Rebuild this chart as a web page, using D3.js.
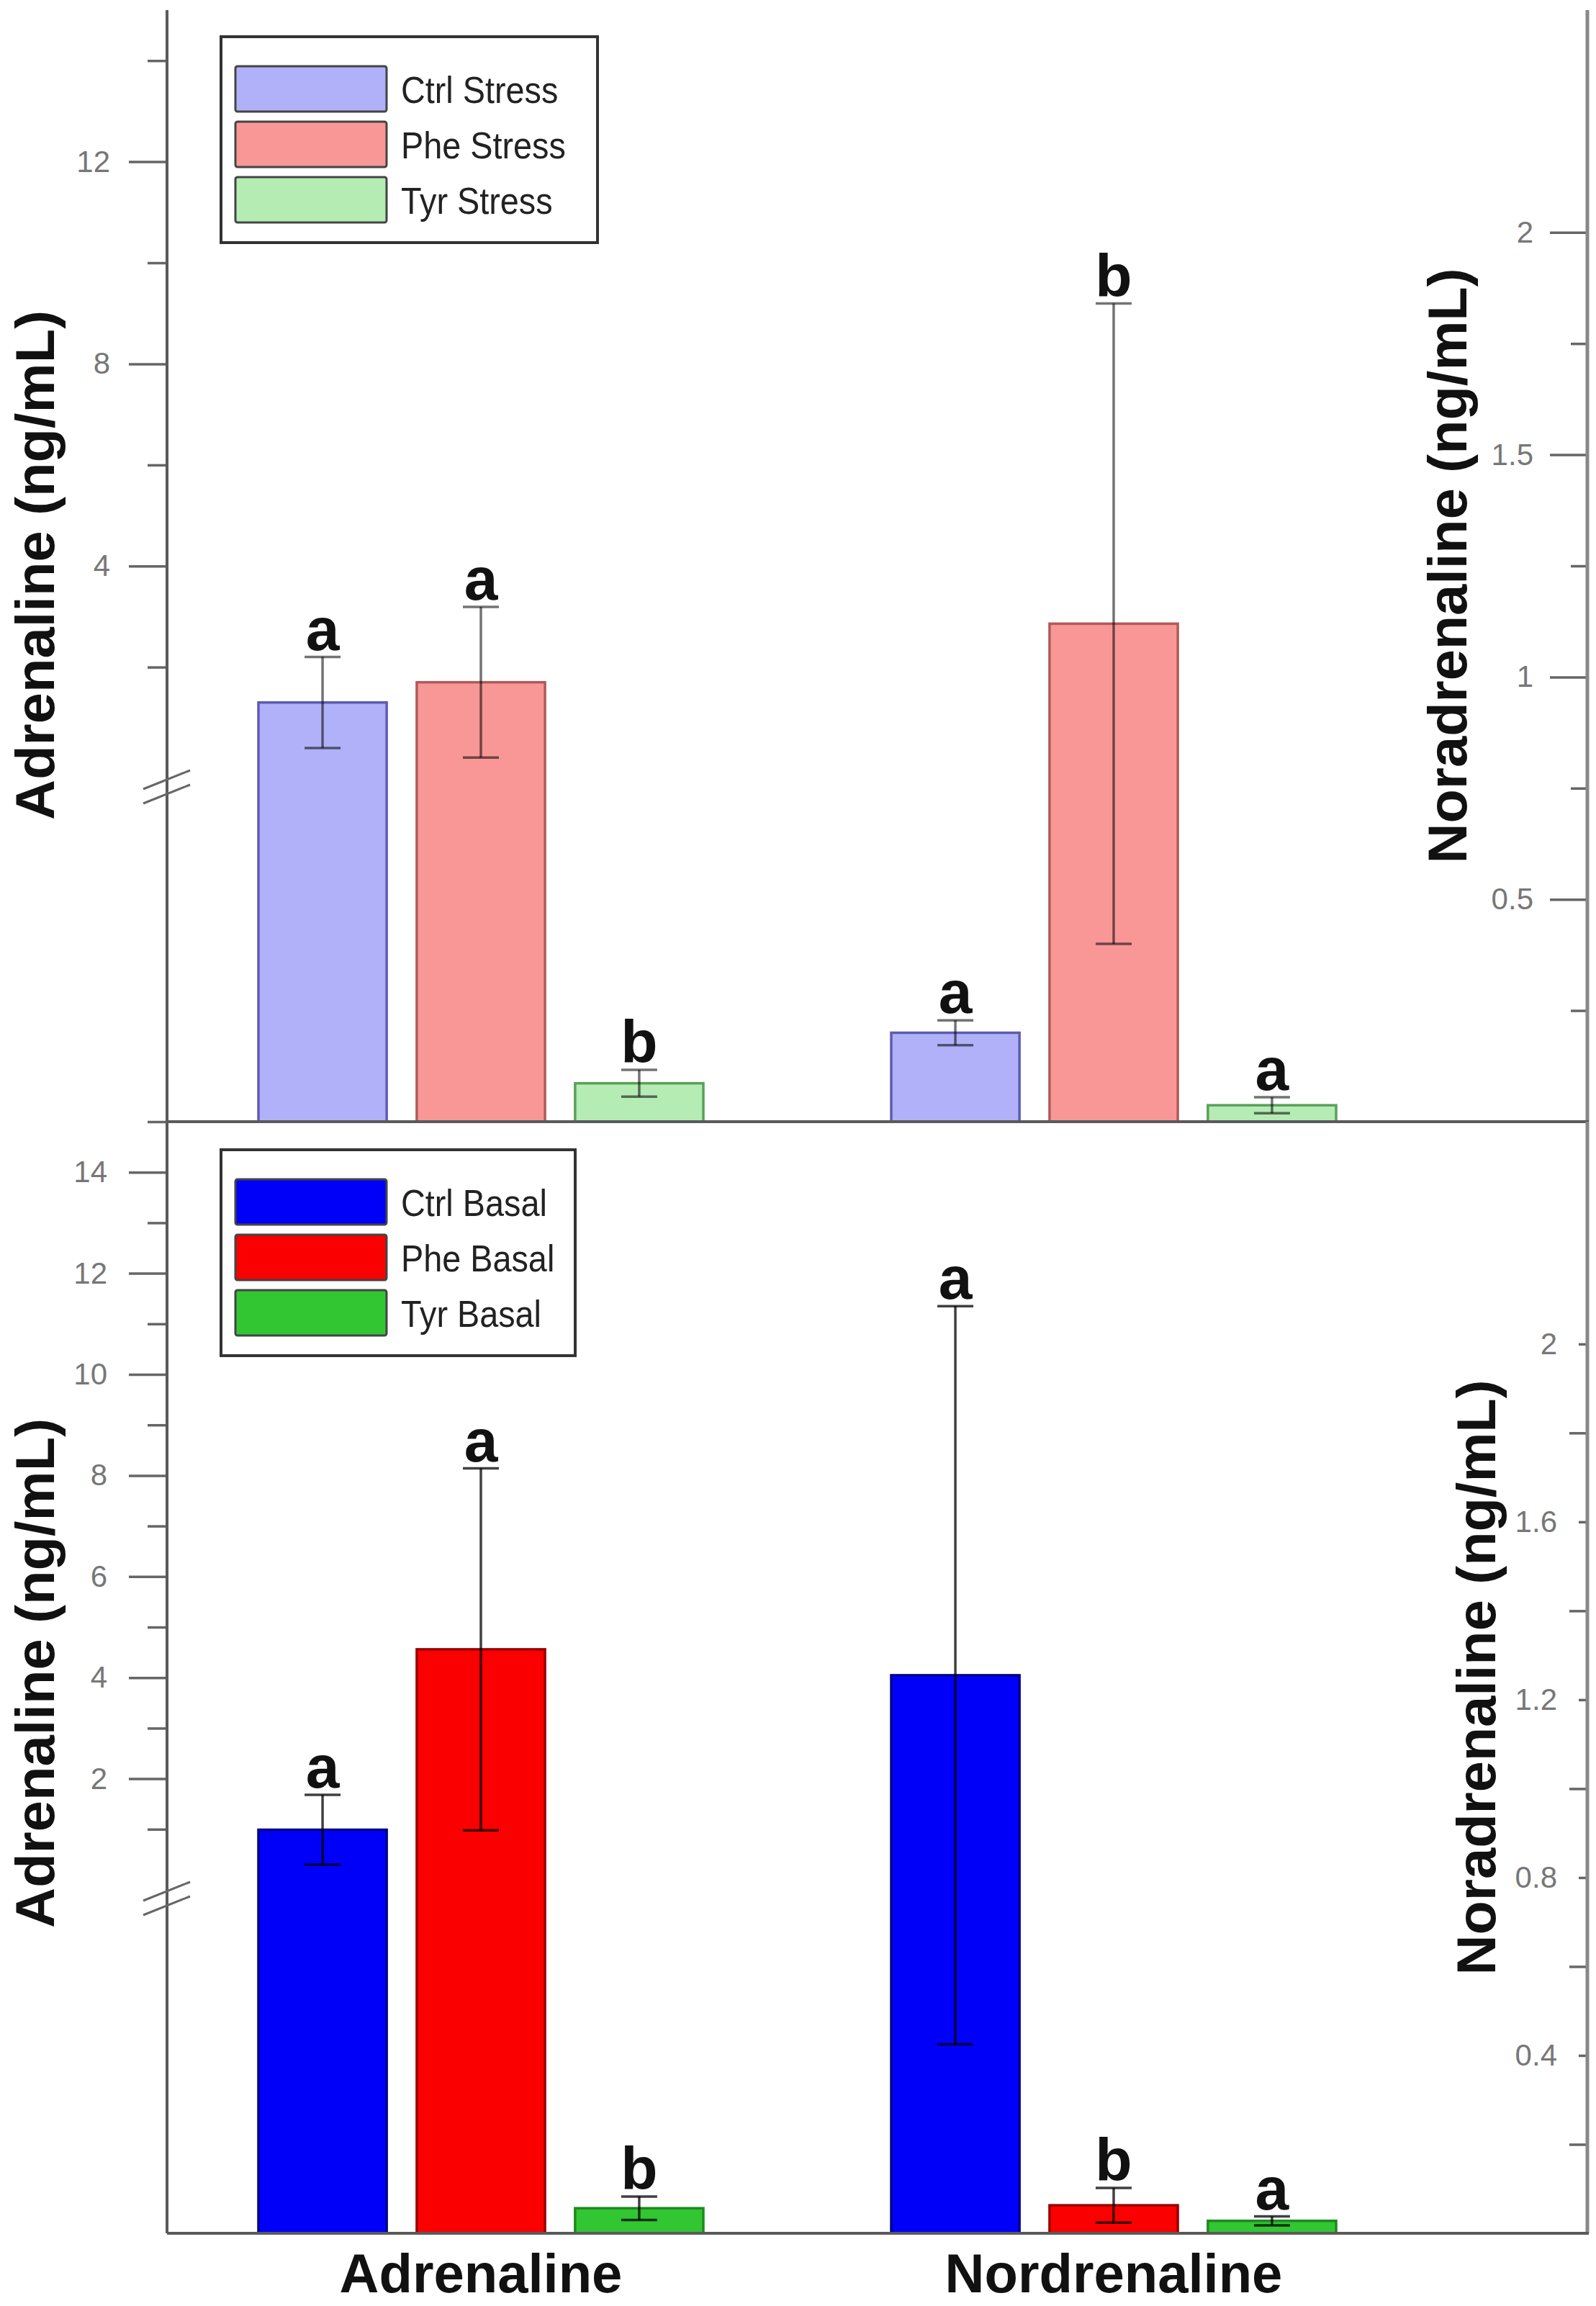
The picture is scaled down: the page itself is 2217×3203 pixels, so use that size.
<!DOCTYPE html>
<html>
<head>
<meta charset="utf-8">
<script src="https://cdn.jsdelivr.net/npm/d3@7"></script>
<style>
  body { margin: 0; background: #fff; }
  svg { display: block; }
  text { font-family: "Liberation Sans", Arial, sans-serif; }
</style>
</head>
<body>
<svg id="chart" width="2217" height="3203"></svg>
<script>
const categories = ['Adrenaline', 'Nordrenaline'];
const stressSeries = ['Ctrl Stress', 'Phe Stress', 'Tyr Stress'];
const basalSeries = ['Ctrl Basal', 'Phe Basal', 'Tyr Basal'];

// one value per series (Ctrl, Phe, Tyr)
const stressAdrenaline = [1.30, 1.70, 0.023];
const stressAdrenalineErr = [0.90, 1.49, 0.008];
const stressNoradrenaline = [0.20, 1.12, 0.037];
const stressNoradrenalineErr = [0.028, 0.72, 0.018];
const basalAdrenaline = [0.99, 4.56, 0.015];
const basalAdrenalineErr = [0.69, 3.58, 0.007];
const basalNoradrenaline = [1.255, 0.063, 0.028];
const basalNoradrenalineErr = [0.83, 0.039, 0.010];

// significance letters, per category then per series
const stressLetters = [['a', 'a', 'b'], ['a', 'b', 'a']];
const basalLetters = [['a', 'a', 'b'], ['a', 'b', 'a']];

const stressLeftMajor = [4, 8, 12];
const stressLeftMinor = [2, 6, 10, 14];
const basalLeftMajor = [2, 4, 6, 8, 10, 12, 14];
const basalLeftMinor = [1, 3, 5, 7, 9, 11, 13, 15];
const stressRightMajor = [0.5, 1, 1.5, 2];
const stressRightMinor = [0.25, 0.75, 1.25, 1.75];
const basalRightMajor = [0.4, 0.8, 1.2, 1.6, 2];
const basalRightMinor = [0.2, 0.6, 1.0, 1.4, 1.8];

const adrDomain = [0, 15];      // part of the left axis above the break
const adrLowDomain = [0, 0.2];  // part below the break
const norDomain = [0, 2.5];

const stressFill = ['#b1b1f9', '#f99797', '#b4ecb4'];
const stressStroke = ['#5c5cb0', '#b05a5a', '#5aa05a'];
const basalFill = ['#0000fa', '#fa0000', '#33c633'];
const basalStroke = ['#00008a', '#9a0000', '#1e8a1e'];

const svg = d3.select('#chart');
const left = 232, right = 2205, panelH = 1544;
const axisColor = '#5a5a5a';

const x = d3.scalePoint().domain(categories).range([668, 1547]);

const panels = [
  {
    top: 14, series: stressSeries, fill: stressFill, stroke: stressStroke,
    adr: stressAdrenaline, adrErr: stressAdrenalineErr,
    nor: stressNoradrenaline, norErr: stressNoradrenalineErr,
    letters: stressLetters, errOpacity: 0.55,
    leftMajor: stressLeftMajor, leftMinor: stressLeftMinor,
    rightMajor: stressRightMajor, rightMinor: stressRightMinor,
    rMajorLen: 52, rMinorLen: 23, rPad: 23, lPad: 26,
    legend: { x: 307, y: 51, w: 523, h: 286 }
  },
  {
    top: 1558, series: basalSeries, fill: basalFill, stroke: basalStroke,
    adr: basalAdrenaline, adrErr: basalAdrenalineErr,
    nor: basalNoradrenaline, norErr: basalNoradrenalineErr,
    letters: basalLetters, errOpacity: 0.75,
    leftMajor: basalLeftMajor, leftMinor: basalLeftMinor,
    rightMajor: basalRightMajor, rightMinor: basalRightMinor,
    rMajorLen: 12, rMinorLen: 25, rPad: 30, lPad: 30,
    legend: { x: 307, y: 1597, w: 492, h: 286 }
  }
];

function styleAxis(g) {
  g.select('.domain').remove();
  g.selectAll('.tick line').attr('stroke', '#666').attr('stroke-width', 3.5);
  g.selectAll('.tick text')
    .attr('font-size', 42)
    .attr('font-family', '"Liberation Sans", Arial, sans-serif')
    .attr('fill', '#777');
}

function drawPanel(p) {
  const g = svg.append('g');
  const base = p.top + panelH;
  const yHi = d3.scaleLinear().domain(adrDomain).range([p.top + 1053, p.top]);
  const yLo = d3.scaleLinear().domain(adrLowDomain).range([base, p.top + 1080]);
  const yAdr = v => (v < adrLowDomain[1] ? yLo(v) : yHi(v));
  const yNor = d3.scaleLinear().domain(norDomain).range([base, p.top]);
  const xSub = d3.scaleBand().domain(p.series).range([-309, 309]).paddingInner(0.19);

  const rows = [];
  categories.forEach((cat, i) => {
    p.series.forEach((s, j) => {
      rows.push({
        cat: cat, s: s, j: j,
        v: i === 0 ? p.adr[j] : p.nor[j],
        e: i === 0 ? p.adrErr[j] : p.norErr[j],
        letter: p.letters[i][j],
        y: i === 0 ? yAdr : yNor
      });
    });
  });

  // bars
  g.selectAll('rect.bar')
    .data(rows)
    .join('rect')
    .attr('class', 'bar')
    .attr('x', d => x(d.cat) + xSub(d.s))
    .attr('width', xSub.bandwidth())
    .attr('y', d => d.y(d.v))
    .attr('height', d => base - d.y(d.v))
    .attr('fill', d => p.fill[d.j])
    .attr('stroke', d => p.stroke[d.j])
    .attr('stroke-width', 3.5);

  // error bars
  const cx = d => x(d.cat) + xSub(d.s) + xSub.bandwidth() / 2;
  const err = g.selectAll('g.err')
    .data(rows)
    .join('g')
    .attr('class', 'err')
    .attr('stroke', '#000')
    .attr('stroke-opacity', p.errOpacity)
    .attr('stroke-width', 3.5);
  err.append('line')
    .attr('x1', cx).attr('x2', cx)
    .attr('y1', d => d.y(d.v - d.e))
    .attr('y2', d => d.y(d.v + d.e));
  err.append('line')
    .attr('x1', d => cx(d) - 25).attr('x2', d => cx(d) + 25)
    .attr('y1', d => d.y(d.v + d.e)).attr('y2', d => d.y(d.v + d.e));
  err.append('line')
    .attr('x1', d => cx(d) - 25).attr('x2', d => cx(d) + 25)
    .attr('y1', d => d.y(d.v - d.e)).attr('y2', d => d.y(d.v - d.e));

  // letters
  g.selectAll('text.letter')
    .data(rows)
    .join('text')
    .attr('class', 'letter')
    .attr('x', cx)
    .attr('y', d => d.y(d.v + d.e) - 10)
    .attr('text-anchor', 'middle')
    .attr('font-size', 84)
    .attr('font-weight', 'bold')
    .attr('fill', '#111')
    .text(d => d.letter);

  // left axis
  g.append('g')
    .attr('transform', `translate(${left},0)`)
    .call(d3.axisLeft(yHi).tickValues(p.leftMajor).tickSize(53).tickPadding(p.lPad).tickFormat(d3.format('~g')))
    .call(styleAxis);
  g.append('g')
    .attr('transform', `translate(${left},0)`)
    .call(d3.axisLeft(yHi).tickValues(p.leftMinor).tickSize(27).tickFormat(''))
    .call(styleAxis);

  // right axis, ticks pointing inward
  g.append('g')
    .attr('transform', `translate(${right},0)`)
    .call(d3.axisLeft(yNor).tickValues(p.rightMajor).tickSize(p.rMajorLen).tickPadding(p.rPad).tickFormat(d3.format('~g')))
    .call(styleAxis);
  g.append('g')
    .attr('transform', `translate(${right},0)`)
    .call(d3.axisLeft(yNor).tickValues(p.rightMinor).tickSize(p.rMinorLen).tickFormat(''))
    .call(styleAxis);

  g.append('line')
    .attr('x1', left).attr('x2', left).attr('y1', p.top).attr('y2', base)
    .attr('stroke', axisColor).attr('stroke-width', 4);
  g.append('line')
    .attr('x1', right).attr('x2', right).attr('y1', p.top).attr('y2', base)
    .attr('stroke', '#888').attr('stroke-width', 5);
  g.append('line')
    .attr('x1', left).attr('x2', right + 2).attr('y1', base).attr('y2', base)
    .attr('stroke', axisColor).attr('stroke-width', 4);

  // axis break marks
  const by = p.top + 1079;
  [-10, 10].forEach(off => {
    g.append('line')
      .attr('x1', left - 33).attr('y1', by + off + 13)
      .attr('x2', left + 32).attr('y2', by + off - 13)
      .attr('stroke', '#666').attr('stroke-width', 3);
  });

  // legend
  const L = p.legend;
  const lg = g.append('g');
  lg.append('rect')
    .attr('x', L.x).attr('y', L.y).attr('width', L.w).attr('height', L.h)
    .attr('fill', '#fff').attr('stroke', '#333').attr('stroke-width', 4);
  const item = lg.selectAll('g.item')
    .data(p.series)
    .join('g')
    .attr('class', 'item')
    .attr('transform', (d, i) => `translate(${L.x + 20},${L.y + 41 + i * 77})`);
  item.append('rect')
    .attr('width', 210).attr('height', 63).attr('rx', 3)
    .attr('fill', (d, i) => p.fill[i])
    .attr('stroke', '#444').attr('stroke-width', 3);
  item.append('text')
    .attr('transform', 'translate(230,51) scale(0.9,1)')
    .attr('font-size', 52)
    .attr('fill', '#222')
    .text(d => d);
}

panels.forEach(drawPanel);

// axis titles
const titles = [
  { text: 'Adrenaline (ng/mL)', x: 75, y: 785, len: 708 },
  { text: 'Adrenaline (ng/mL)', x: 75, y: 2324, len: 708 },
  { text: 'Noradrenaline (ng/mL)', x: 2037, y: 786, len: 827 },
  { text: 'Noradrenaline (ng/mL)', x: 2077, y: 2330, len: 827 }
];
svg.selectAll('text.title')
  .data(titles)
  .join('text')
  .attr('class', 'title')
  .attr('transform', d => `translate(${d.x},${d.y}) rotate(-90)`)
  .attr('text-anchor', 'middle')
  .attr('font-size', 76)
  .attr('font-weight', 'bold')
  .attr('fill', '#111')
  .attr('textLength', d => d.len)
  .attr('lengthAdjust', 'spacingAndGlyphs')
  .text(d => d.text);

// category labels under the bottom panel
svg.selectAll('text.cat')
  .data(categories)
  .join('text')
  .attr('class', 'cat')
  .attr('x', d => x(d))
  .attr('y', 3184)
  .attr('text-anchor', 'middle')
  .attr('font-size', 76)
  .attr('font-weight', 'bold')
  .attr('fill', '#111')
  .text(d => d);
</script>
</body>
</html>
